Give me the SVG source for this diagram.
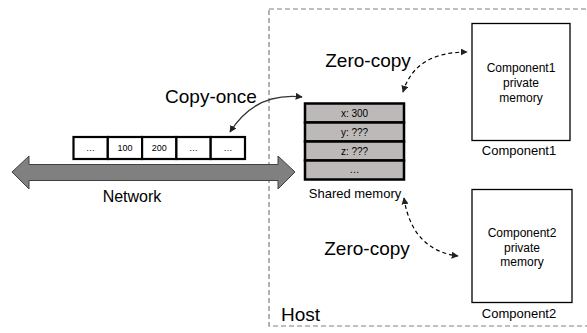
<svg xmlns="http://www.w3.org/2000/svg" width="587" height="333" viewBox="0 0 587 333">
<style>
text{font-family:"Liberation Sans",Arial,sans-serif;fill:#000;text-anchor:middle}
.big{font-size:19px}
.mid{font-size:13px}
.sm{font-size:12px}
.tiny{font-size:9px}
.cell{fill:#fff;stroke:#000;stroke-width:2.2}
.row{fill:#bdb9b9;stroke:#000;stroke-width:2.5}
.box{fill:#fff;stroke:#000;stroke-width:1.3}
.solid{fill:none;stroke:#333;stroke-width:1.3}
.dash{fill:none;stroke:#000;stroke-width:1.2;stroke-dasharray:4,3}
</style>
<defs>
<marker id="ah" viewBox="0 0 10 10" refX="9" refY="5" markerWidth="7" markerHeight="7" orient="auto-start-reverse" markerUnits="userSpaceOnUse">
<path d="M0,0 L10,5 L0,10 z" fill="#222"/>
</marker>
</defs>

<g id="host">
<rect x="269" y="9" width="330" height="317" fill="none" stroke="#808080" stroke-width="1.2" stroke-dasharray="5,3"/>
<text class="big" x="281" y="321" style="text-anchor:start">Host</text>
</g>

<g id="network">
<polygon points="12,172 29,156 29,164.5 278,164.5 278,156 295,172 278,189 278,180.5 29,180.5 29,189" fill="#808080" stroke="#404040" stroke-width="1"/>
<text x="132" y="202" style="font-size:16px">Network</text>
</g>

<g id="packet">
<rect class="cell" x="73.5" y="137" width="34.3" height="22"/>
<rect class="cell" x="107.8" y="137" width="34.3" height="22"/>
<rect class="cell" x="142.1" y="137" width="34.3" height="22"/>
<rect class="cell" x="176.4" y="137" width="34.3" height="22"/>
<rect class="cell" x="210.7" y="137" width="34.3" height="22"/>
<text class="tiny" x="90.6" y="151">…</text>
<text class="tiny" x="125" y="151">100</text>
<text class="tiny" x="159.3" y="151">200</text>
<text class="tiny" x="193.6" y="151">…</text>
<text class="tiny" x="227.9" y="151">…</text>
</g>

<g id="shared-memory">
<rect class="row" x="305" y="103.5" width="99" height="19"/>
<rect class="row" x="305" y="122.5" width="99" height="19"/>
<rect class="row" x="305" y="141.5" width="99" height="19"/>
<rect class="row" x="305" y="160.5" width="99" height="19"/>
<text x="354.5" y="116.5" style="font-size:10px">x: 300</text>
<text x="354.5" y="135.5" style="font-size:10px">y: ???</text>
<text x="354.5" y="154.5" style="font-size:10px">z: ???</text>
<text x="354.5" y="173" style="font-size:10px">…</text>
<text class="mid" x="355" y="198">Shared memory</text>
</g>

<g id="component1">
<rect class="box" x="472" y="23.5" width="98" height="117"/>
<text class="sm" x="521" y="72">Component1</text>
<text class="sm" x="521" y="87">private</text>
<text class="sm" x="521" y="102">memory</text>
<text class="mid" x="519" y="155">Component1</text>
</g>

<g id="component2">
<rect class="box" x="472" y="189.5" width="100" height="113"/>
<text class="sm" x="522" y="237">Component2</text>
<text class="sm" x="522" y="252">private</text>
<text class="sm" x="522" y="266">memory</text>
<text class="mid" x="519" y="318">Component2</text>
</g>

<g id="connectors">
<path class="solid" d="M230,132 Q255,92 302,97" marker-start="url(#ah)" marker-end="url(#ah)"/>
<path class="dash" d="M403,92 Q415,52 467,52" marker-start="url(#ah)" marker-end="url(#ah)"/>
<path class="dash" d="M404,198 Q412,250 458,256" marker-start="url(#ah)" marker-end="url(#ah)"/>
<text class="big" x="211" y="103">Copy-once</text>
<text class="big" x="368" y="67">Zero-copy</text>
<text class="big" x="367" y="255">Zero-copy</text>
</g>
</svg>
